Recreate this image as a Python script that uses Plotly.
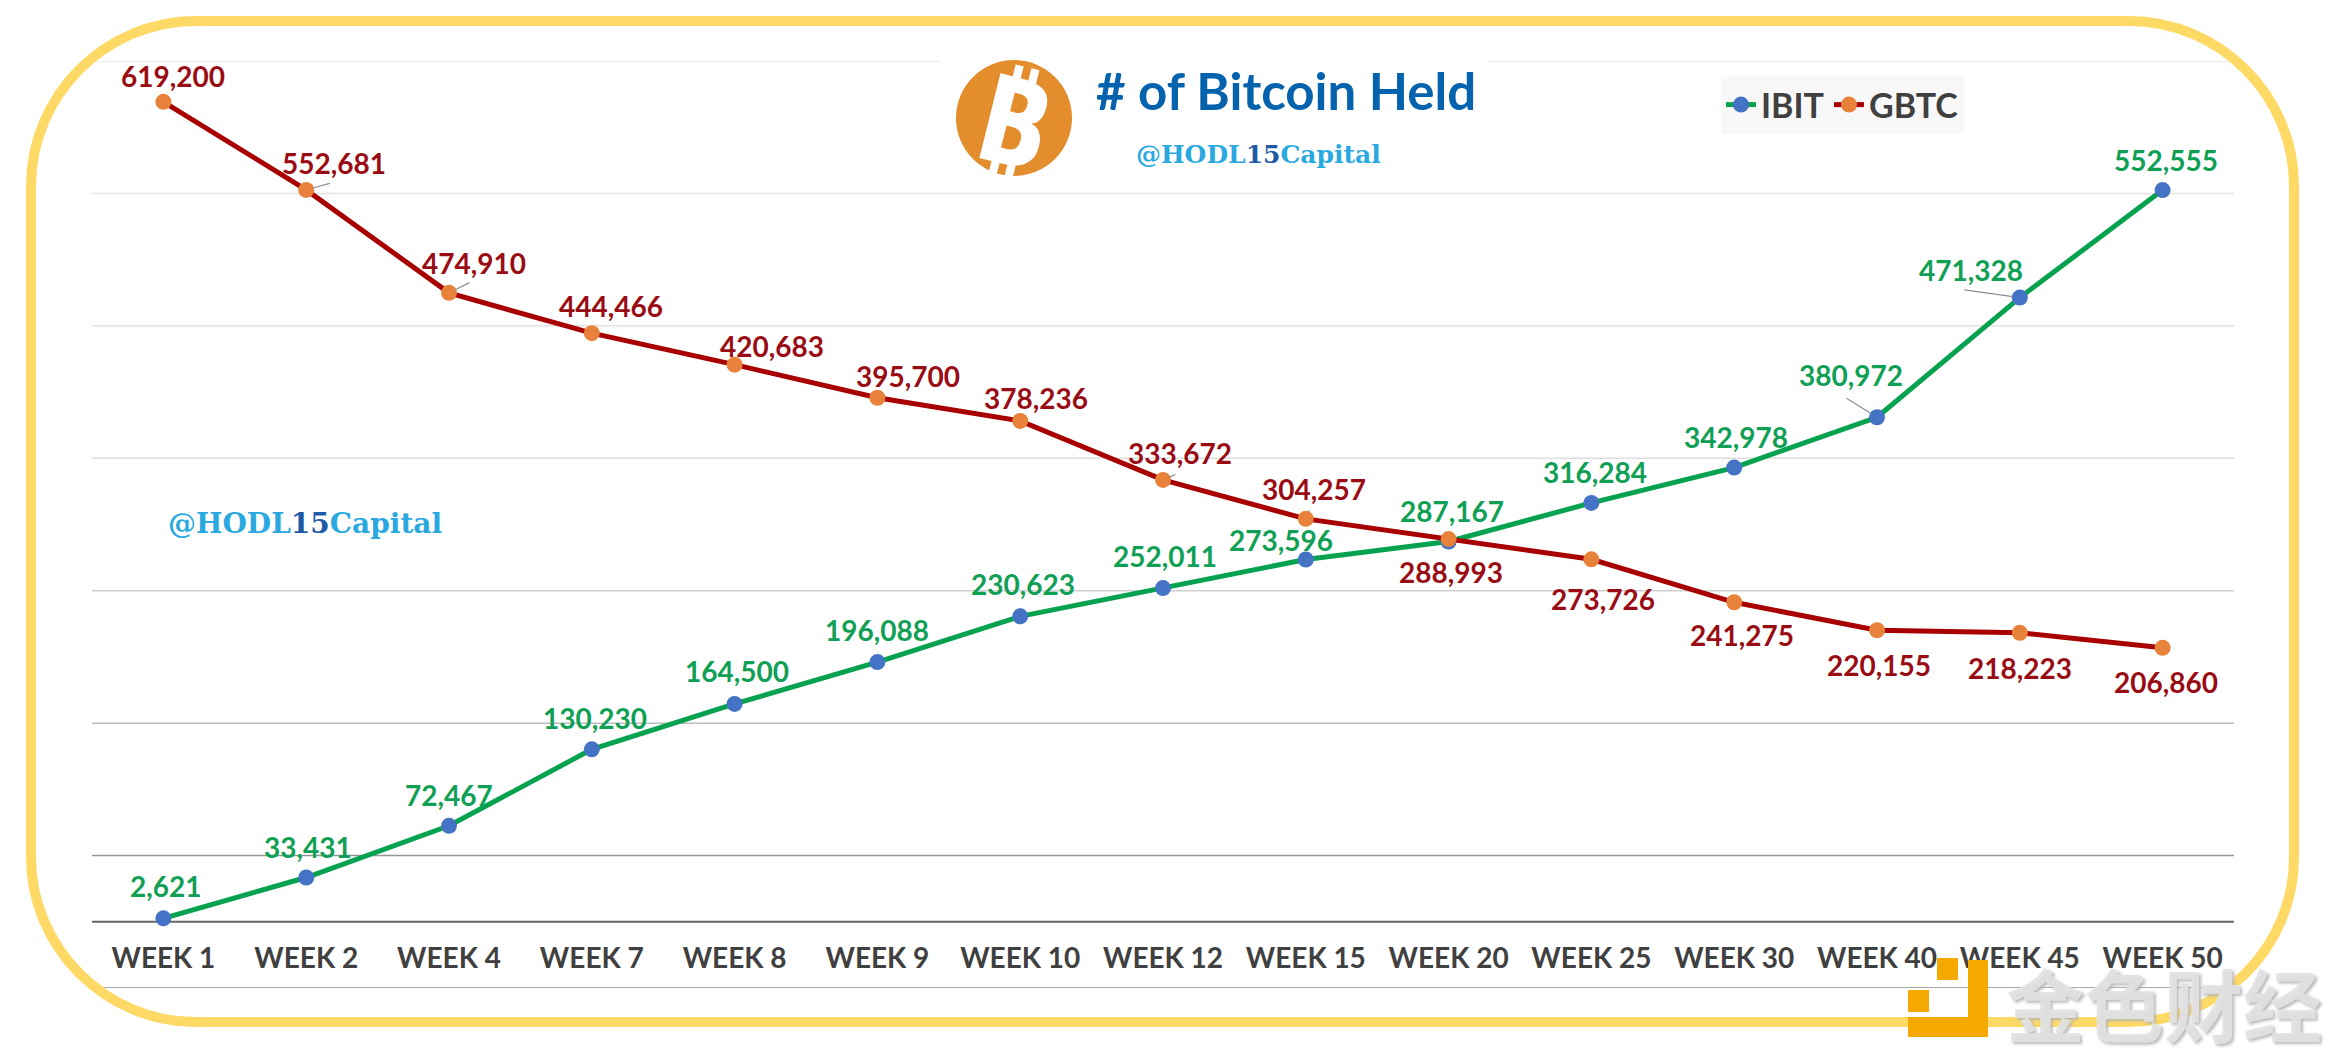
import plotly.graph_objects as go

WIDTH = 2331
HEIGHT = 1053

weeks = ['WEEK 1', 'WEEK 2', 'WEEK 4', 'WEEK 7', 'WEEK 8', 'WEEK 9', 'WEEK 10', 'WEEK 12',
         'WEEK 15', 'WEEK 20', 'WEEK 25', 'WEEK 30', 'WEEK 40', 'WEEK 45', 'WEEK 50']
ibit = [2621, 33431, 72467, 130230, 164500, 196088, 230623, 252011,
        273596, 287167, 316284, 342978, 380972, 471328, 552555]
gbtc = [619200, 552681, 474910, 444466, 420683, 395700, 378236, 333672,
        304257, 288993, 273726, 241275, 220155, 218223, 206860]

# gridlines fade out towards the top of the chart
grid_levels = [-50000, 0, 50000, 150000, 250000, 350000, 450000, 550000, 650000]
grid_colors = ['#8c8c8c', '#666666', '#969696', '#bdbdbd', '#cfcfcf',
               '#dedede', '#e2e2e2', '#e4e4e4', '#e6e6e6']

# data label offsets from the marker, in pixels (right, up)
ibit_label_dx = [3, 2, 0, 3, 2, 0, 3, 2, -25, 3, 4, 2, -26, -49, 3]
ibit_label_dy = [32, 31, 31, 31, 33, 32, 32, 32, 19, 30, 31, 31, 42, 28, 30]
gbtc_label_dx = [10, 28, 25, 19, 37, 31, 16, 17, 8, 2, 12, 8, 2, 0, 3]
gbtc_label_dy = [26, 27, 30, 27, 19, 22, 23, 27, 30, -33, -40, -33, -35, -35, -34]

# thin leader lines: point index -> (ax, ay) in pixels
ibit_leaders = {12: (-32, -20), 13: (-57, -8)}
gbtc_leaders = {0: (7, -6), 1: (25, -7), 2: (22, -11), 7: (14, -6), 8: (4, -10)}

GREEN = '#07a24f'
RED = '#a80000'
LABEL_GREEN = '#10a055'
LABEL_RED = '#9a0c14'
FRAME = '#ffd966'
FONT = 'Lato'


def px(x: float) -> float:
    """Return the paper x coordinate of pixel column x."""
    return x / WIDTH


def py(y: float) -> float:
    """Return the paper y coordinate of pixel row y (counted from the top)."""
    return 1 - y / HEIGHT


def rounded_rect(x0: float, y0: float, x1: float, y1: float, r: float) -> str:
    """Return an SVG path in paper coordinates for a rounded rectangle given in pixels."""
    k = r * 0.45  # how far the control points sit from the corner
    return (f'M {px(x0 + r)} {py(y0)} L {px(x1 - r)} {py(y0)} '
            f'C {px(x1 - k)} {py(y0)} {px(x1)} {py(y0 + k)} {px(x1)} {py(y0 + r)} '
            f'L {px(x1)} {py(y1 - r)} '
            f'C {px(x1)} {py(y1 - k)} {px(x1 - k)} {py(y1)} {px(x1 - r)} {py(y1)} '
            f'L {px(x0 + r)} {py(y1)} '
            f'C {px(x0 + k)} {py(y1)} {px(x0)} {py(y1 - k)} {px(x0)} {py(y1 - r)} '
            f'L {px(x0)} {py(y0 + r)} '
            f'C {px(x0)} {py(y0 + k)} {px(x0 + k)} {py(y0)} {px(x0 + r)} {py(y0)} Z')


def paper_rect(fig: go.Figure, x0: float, y0: float, x1: float, y1: float, color: str) -> None:
    """Add a filled rectangle given in pixels on top of the plot."""
    fig.add_shape(type='rect', xref='paper', yref='paper', layer='above',
                  x0=px(x0), y0=py(y1), x1=px(x1), y1=py(y0),
                  fillcolor=color, line_width=0)


def paper_text(fig: go.Figure, x: float, y: float, text: str, font: dict, angle: float = 0) -> None:
    """Add a text centred on pixel (x, y)."""
    fig.add_annotation(xref='paper', yref='paper', x=px(x), y=py(y), text=text, showarrow=False,
                       xanchor='center', yanchor='middle', textangle=angle, font=font)


fig = go.Figure()
fig.add_trace(go.Scatter(x=weeks, y=ibit, name='IBIT', mode='lines+markers',
                         line=dict(color=GREEN, width=5),
                         marker=dict(color='#4472c4', size=16)))
fig.add_trace(go.Scatter(x=weeks, y=gbtc, name='GBTC', mode='lines+markers',
                         line=dict(color=RED, width=5),
                         marker=dict(color='#e8823a', size=16)))

for level, color in zip(grid_levels, grid_colors):
    fig.add_shape(type='line', xref='paper', yref='y', layer='below',
                  x0=px(92), x1=px(2234), y0=level, y1=level,
                  line=dict(color=color, width=2 if level == 0 else 1.5))

# white patch that interrupts the top gridline behind the title
paper_rect(fig, 941, 45, 1488, 185, 'white')
fig.add_shape(type='circle', xref='paper', yref='paper', layer='above',
              x0=px(956), x1=px(1072), y0=py(176), y1=py(60),
              fillcolor='#e38d2d', line_width=0)
fig.add_shape(type='path', xref='paper', yref='paper', layer='above',
              path=rounded_rect(31, 21, 2294, 1022, 165),
              line=dict(color=FRAME, width=10))

# watermark logo
paper_rect(fig, 1937, 958, 1958, 980, '#f5a800')
paper_rect(fig, 1908, 990, 1929, 1012, '#f5a800')
paper_rect(fig, 1968, 960, 1988, 1037, '#f5a800')
paper_rect(fig, 1908, 1017, 1988, 1037, '#f5a800')

series = [(ibit, ibit_label_dx, ibit_label_dy, LABEL_GREEN, ibit_leaders),
          (gbtc, gbtc_label_dx, gbtc_label_dy, LABEL_RED, gbtc_leaders)]
for values, label_dx, label_dy, color, leaders in series:
    for i in range(len(weeks)):
        fig.add_annotation(x=weeks[i], y=values[i], text=f'{values[i]:,}', showarrow=False,
                           xshift=label_dx[i], yshift=label_dy[i],
                           font=dict(family=FONT, size=28, color=color, weight='bold'))
    for i, (ax, ay) in leaders.items():
        fig.add_annotation(x=weeks[i], y=values[i], text='', showarrow=True, arrowhead=0,
                           ax=ax, ay=ay, standoff=7, arrowwidth=1.2, arrowcolor='#8a9099')

handle = '@HODL<span style="color:#1f5aa6">15</span>Capital'
paper_text(fig, 305, 523, handle, dict(family='DejaVu Serif', size=28, color='#29a9e0', weight='bold'))
paper_text(fig, 1259, 155, handle, dict(family='DejaVu Serif', size=25, color='#29a9e0', weight='bold'))
paper_text(fig, 1014, 118, '₿', dict(family='Noto Sans', size=122, color='white', weight='bold'),
           angle=14)
paper_text(fig, 2164, 1002, '金色财经', dict(family='Noto Sans CJK SC', size=79, weight='bold',
                                         color='rgba(226,226,226,0.93)',
                                         shadow='2px 2px 3px #b5b5b5'))

fig.update_layout(
    width=WIDTH, height=HEIGHT,
    margin=dict(l=0, r=0, t=0, b=0),
    paper_bgcolor='white', plot_bgcolor='white',
    title=dict(text='# of Bitcoin Held', x=px(1096), y=py(92), xanchor='left', yanchor='middle',
               xref='paper', yref='paper',
               font=dict(family=FONT, size=51, color='#0563ae', weight='bold')),
    legend=dict(orientation='h', x=px(1721), y=py(76), xanchor='left', yanchor='top',
                bgcolor='#f8f8f8', font=dict(family=FONT, size=34, color='#404040', weight='bold')),
    xaxis=dict(domain=[px(92), px(2234)], range=[-0.5, 14.5], showgrid=False, showline=False,
               ticks='', ticklabelposition='inside', ticklabelstandoff=11,
               tickfont=dict(family=FONT, size=28, color='#404040', weight='bold')),
    yaxis=dict(domain=[py(988), py(61)], range=[-50000, 650000], showgrid=False, zeroline=False,
               showticklabels=False, ticks=''),
)

fig.write_html('out.html', config=dict(displayModeBar=False),
               post_script="document.body.style.margin = '0';")
